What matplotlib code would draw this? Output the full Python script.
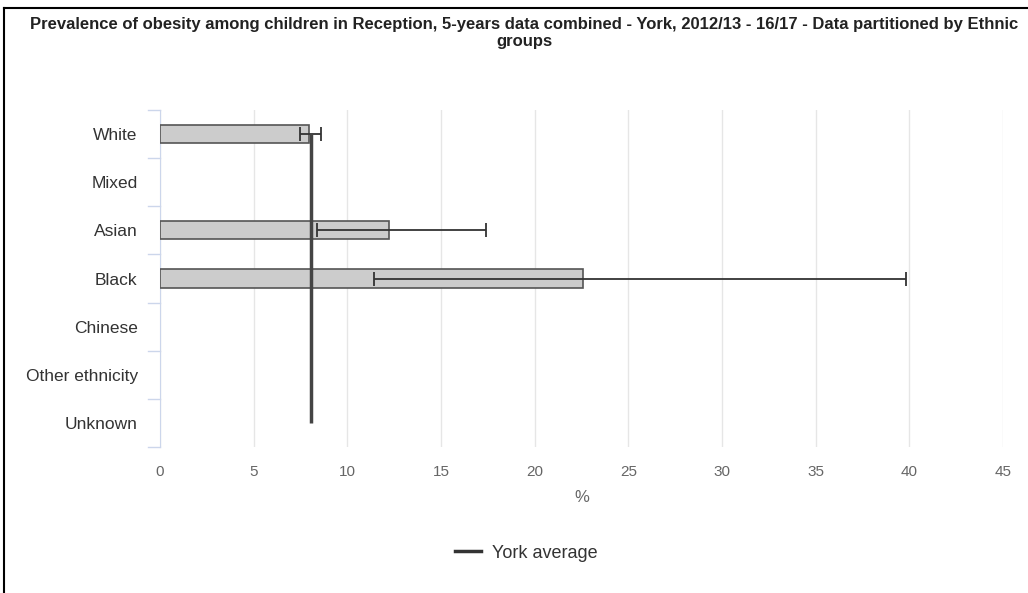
import numpy as np
import matplotlib.pyplot as plt
from matplotlib.lines import Line2D

# ethnic groups, top to bottom
groups = ["White", "Mixed", "Asian", "Black", "Chinese", "Other ethnicity", "Unknown"]
# prevalence (%), None where no value is published
values = [7.95, None, 12.2, 22.6, None, None, None]
ci_low = [7.5, None, 8.4, 11.4, None, None, None]
ci_high = [8.6, None, 17.4, 39.8, None, None, None]
york_avg = 8.04
x_ticks = [0, 5, 10, 15, 20, 25, 30, 35, 40, 45]

plt.rcParams['font.family'] = ['Liberation Sans', 'DejaVu Sans']

fig = plt.figure(figsize=(10.28, 5.93), dpi=100)
ax = fig.add_axes([0.1556, 0.2462, 0.8201, 0.5683])

y = np.arange(len(groups))
for i, v in enumerate(values):
    if v is None:
        continue
    ax.barh(y[i], v, height=0.375, color='#cccccc', edgecolor='#555555', linewidth=1.2, zorder=3)
    ax.errorbar(v, y[i], xerr=[[v - ci_low[i]], [ci_high[i] - v]], fmt='none',
                ecolor='#333333', elinewidth=1.3, capsize=5, capthick=1.3, zorder=4)

# York average line across all groups
ax.plot([york_avg] * len(groups), y, color='#444444', linewidth=2.5, zorder=5,
        solid_capstyle='butt')

ax.set_ylim(len(groups) - 0.5, -0.5)
ax.set_xlim(0, 45)
ax.set_xticks(x_ticks)
ax.set_yticks(y)
ax.set_yticklabels(groups)
ax.grid(axis='x', color='#e6e6e6', linewidth=1, zorder=0)
ax.tick_params(axis='x', length=0, labelsize=11, labelcolor='#666666', pad=13)
ax.tick_params(axis='y', length=0, labelsize=12.5, labelcolor='#333333', pad=16)

# category boundary ticks on the y axis
for b in np.arange(-0.5, len(groups), 1):
    ax.plot([-0.65, 0], [b, b], color='#ccd6eb', linewidth=1, clip_on=False, zorder=2)

for s in ['top', 'right', 'bottom']:
    ax.spines[s].set_visible(False)
ax.spines['left'].set_color('#ccd6eb')

ax.set_xlabel('%', fontsize=12, color='#666666', labelpad=8)

fig.suptitle('Prevalence of obesity among children in Reception, 5-years data combined - York, 2012/13 - 16/17 - Data partitioned by Ethnic\ngroups',
             x=0.51, y=0.972, fontsize=12, fontweight='bold', color='#222222',
             linespacing=1.2)

leg_handle = Line2D([], [], color='#333333', linewidth=2.5)
fig.legend([leg_handle], ['York average'], loc='center', bbox_to_anchor=(0.512, 0.067),
           frameon=False, fontsize=13, handlelength=1.4, handletextpad=0.6,
           labelcolor='#333333')

# frame on the left and top edges
fig.add_artist(Line2D([0.004, 0.004], [0, 0.987], color='black', linewidth=1.5,
                      transform=fig.transFigure))
fig.add_artist(Line2D([0.004, 1.0], [0.987, 0.987], color='black', linewidth=1.5,
                      transform=fig.transFigure))

fig.savefig('out.png', dpi=100)
